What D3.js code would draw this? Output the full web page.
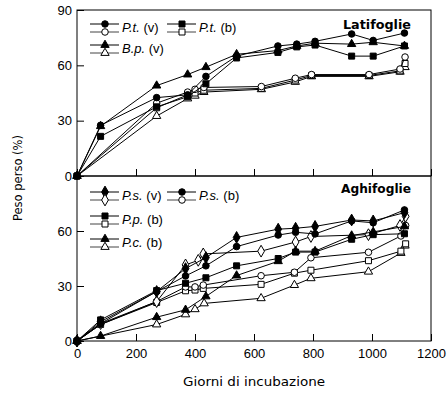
<!DOCTYPE html>
<html>
<head>
<meta charset="utf-8">
<script src="https://cdn.jsdelivr.net/npm/d3@7"></script>
<style>
  body { margin: 0; background: #fff; }
  text { font-family: "Liberation Sans", Arial, sans-serif; }
  .comic { font-family: "Comic Sans MS", "DejaVu Sans", sans-serif; }
</style>
</head>
<body>
<div id="main-frame"></div>
<script>
// x ticks (giorni)
var xTicks = [0, 200, 400, 600, 800, 1000, 1200];
var yTicksTop = [0, 30, 60, 90];
var yTicksBottom = [0, 30, 60];

// Latifoglie: [giorni, peso perso %]
var ptV_filled = [[0,0],[80,27.5],[270,42.5],[375,44],[437,54],[541,65],[681,70.5],[745,71.5],[807,73],[931,77],[1004,73.5],[1110,77.5]];
var ptV_open   = [[0,0],[270,39.5],[375,45.5],[400,47],[430,48],[625,48.5],[740,53],[795,55],[990,55],[1095,58],[1112,64.5]];
var ptB_filled = [[0,0],[80,21.5],[270,37.5],[375,43],[437,50],[541,64],[681,67],[745,70],[807,71],[931,65],[1004,65],[1110,70.5]];
var ptB_open   = [[0,0],[270,37],[375,44],[400,45],[430,46.5],[625,47.5],[740,52],[795,54.5],[990,54.5],[1095,57],[1112,61]];
var bpV_filled = [[0,0],[80,27],[270,49],[375,55],[437,59],[541,66],[681,68],[745,70.5],[807,72],[931,71.5],[1004,72.5],[1110,70.5]];
var bpV_open   = [[0,0],[270,32.5],[375,42],[400,43.5],[430,45.5],[625,47],[740,51],[795,54],[990,54],[1095,56.5],[1112,59]];

// Aghifoglie
var psV_filled = [[0,0],[80,10.5],[270,27],[368,39.5],[437,45.5],[541,56.5],[682,61],[741,61.5],[807,62.5],[931,66],[1004,65.5],[1110,70]];
var psV_open   = [[0,0],[80,9.5],[270,21.5],[368,41.5],[411,44],[428,47.5],[624,49],[741,54],[793,57],[988,58],[1095,63],[1114,68]];
var psB_filled = [[0,0],[80,9.5],[270,27],[368,35.5],[437,41],[541,51.5],[682,57.8],[741,59.3],[807,58.4],[931,65.5],[1004,64.5],[1110,71.5]];
var psB_open   = [[0,0],[80,9],[270,21.5],[368,29.5],[400,29.5],[428,30.5],[624,35.6],[737,37.5],[793,45.4],[988,48.4],[1098,57.3],[1114,63]];
var ppB_filled = [[0,0],[80,11.5],[270,27.5],[368,31.5],[437,34.5],[541,41],[682,45],[741,48.5],[807,48.5],[931,55.5],[1004,58],[1110,58.5]];
var ppB_open   = [[0,0],[80,9],[270,21],[368,27.4],[400,27.8],[428,28.7],[624,30.9],[737,37],[793,38.6],[988,43.8],[1098,49],[1114,53]];
var pcB_filled = [[0,0],[80,2.7],[270,13],[368,17],[437,24.3],[541,35.7],[682,43.5],[741,49],[807,49],[931,57.5],[1004,59.5],[1110,62.5]];
var pcB_open   = [[0,0],[270,9],[368,14.5],[400,17.3],[431,20.5],[624,23.3],[737,30.5],[793,34.2],[988,37.8],[1098,48],[1112,52]];

var W = 448, H = 393;
var left = 77, right = 431;
var topTop = 10, topBottom = 176, botBottom = 341;

var svg = d3.select("#main-frame").append("svg")
  .attr("width", W).attr("height", H);

var x = d3.scaleLinear().domain([0, 1200]).range([left, right]);
var yTop = d3.scaleLinear().domain([0, 90]).range([topBottom, topTop]);
var yBot = d3.scaleLinear().domain([0, 90]).range([botBottom, topBottom]);

var shapes = {
  circle: d3.symbol().type(d3.symbolCircle).size(34),
  square: d3.symbol().type(d3.symbolSquare).size(36),
  triangle: d3.symbol().type(d3.symbolTriangle).size(30),
  diamond: d3.symbol().type(d3.symbolDiamond).size(40)
};

function drawSeries(data, y, shape, filled) {
  var line = d3.line().x(function(d) { return x(d[0]); }).y(function(d) { return y(d[1]); });
  svg.append("path")
    .attr("d", line(data))
    .attr("fill", "none")
    .attr("stroke", "#000")
    .attr("stroke-width", 1);
  svg.append("g").selectAll("path")
    .data(data)
    .enter().append("path")
    .attr("d", shapes[shape]())
    .attr("transform", function(d) { return "translate(" + x(d[0]) + "," + y(d[1]) + ")"; })
    .attr("fill", filled ? "#000" : "#fff")
    .attr("stroke", "#000")
    .attr("stroke-width", 1);
}

function legendItem(lx, ly, shape, italic, normal) {
  // filled line on top, open line below
  [[ly - 3, true], [ly + 5, false]].forEach(function(r) {
    svg.append("line")
      .attr("x1", lx - 15).attr("x2", lx + 14)
      .attr("y1", r[0]).attr("y2", r[0])
      .attr("stroke", r[1] ? "#000" : "#444").attr("stroke-width", 1);
    svg.append("path")
      .attr("d", shapes[shape]())
      .attr("transform", "translate(" + lx + "," + r[0] + ")")
      .attr("fill", r[1] ? "#000" : "#fff")
      .attr("stroke", "#000");
  });
  var t = svg.append("text")
    .attr("x", lx + 17).attr("y", ly + 5)
    .attr("font-size", 13);
  t.append("tspan").attr("font-style", "italic").text(italic);
  t.append("tspan").text(normal);
}

// frames
svg.append("rect").attr("x", left).attr("y", topTop)
  .attr("width", right - left).attr("height", topBottom - topTop)
  .attr("fill", "none").attr("stroke", "#000").attr("stroke-width", 1);
svg.append("rect").attr("x", left).attr("y", topBottom)
  .attr("width", right - left).attr("height", botBottom - topBottom)
  .attr("fill", "none").attr("stroke", "#000").attr("stroke-width", 1);

// axes
function styleAxis(g) {
  g.select(".domain").remove();
  g.selectAll("line").attr("stroke", "#000");
  g.selectAll("text").attr("font-size", 13).attr("fill", "#000")
    .style("font-family", "'Liberation Sans', Arial, sans-serif");
}

svg.append("g").attr("transform", "translate(" + left + ",0)")
  .call(d3.axisLeft(yTop).tickValues(yTicksTop).tickSize(-7).tickPadding(5))
  .call(styleAxis);
svg.append("g").attr("transform", "translate(" + left + ",0)")
  .call(d3.axisLeft(yBot).tickValues(yTicksBottom).tickSize(-7).tickPadding(5))
  .call(styleAxis);
svg.append("g").attr("transform", "translate(0," + topBottom + ")")
  .call(d3.axisBottom(x).tickValues(xTicks).tickSize(-7).tickFormat(""))
  .call(styleAxis);
svg.append("g").attr("transform", "translate(0," + botBottom + ")")
  .call(d3.axisBottom(x).tickValues(xTicks).tickSize(-7).tickPadding(8).tickFormat(d3.format("d")))
  .call(styleAxis);

// Latifoglie
drawSeries(bpV_open, yTop, "triangle", false);
drawSeries(ptB_open, yTop, "square", false);
drawSeries(ptV_open, yTop, "circle", false);
drawSeries(ptB_filled, yTop, "square", true);
drawSeries(bpV_filled, yTop, "triangle", true);
drawSeries(ptV_filled, yTop, "circle", true);

// Aghifoglie
drawSeries(pcB_open, yBot, "triangle", false);
drawSeries(ppB_open, yBot, "square", false);
drawSeries(psB_open, yBot, "circle", false);
drawSeries(psV_open, yBot, "diamond", false);
drawSeries(pcB_filled, yBot, "triangle", true);
drawSeries(ppB_filled, yBot, "square", true);
drawSeries(psB_filled, yBot, "circle", true);
drawSeries(psV_filled, yBot, "diamond", true);

// legends
legendItem(105, 27, "circle", "P.t.", " (v)");
legendItem(182, 27, "square", "P.t.", " (b)");
legendItem(105, 48, "triangle", "B.p.", " (v)");
legendItem(105, 195, "diamond", "P.s.", " (v)");
legendItem(182, 195, "circle", "P.s.", " (b)");
legendItem(105, 219, "square", "P.p.", " (b)");
legendItem(105, 242, "triangle", "P.c.", " (b)");

// panel titles
svg.append("text").attr("class", "comic")
  .attr("x", 411).attr("y", 29).attr("text-anchor", "end")
  .attr("font-size", 13).attr("font-weight", "bold")
  .attr("textLength", 68).attr("lengthAdjust", "spacingAndGlyphs")
  .text("Latifoglie");
svg.append("text").attr("class", "comic")
  .attr("x", 411).attr("y", 193).attr("text-anchor", "end")
  .attr("font-size", 13).attr("font-weight", "bold")
  .attr("textLength", 70).attr("lengthAdjust", "spacingAndGlyphs")
  .text("Aghifoglie");

// axis titles
svg.append("text").attr("class", "comic")
  .attr("x", 254).attr("y", 386).attr("text-anchor", "middle")
  .attr("font-size", 13)
  .attr("textLength", 142).attr("lengthAdjust", "spacingAndGlyphs")
  .text("Giorni di incubazione");
svg.append("text").attr("class", "comic")
  .attr("transform", "translate(22,178) rotate(-90)")
  .attr("text-anchor", "middle")
  .attr("font-size", 12)
  .attr("textLength", 86).attr("lengthAdjust", "spacingAndGlyphs")
  .text("Peso perso (%)");
</script>
</body>
</html>
